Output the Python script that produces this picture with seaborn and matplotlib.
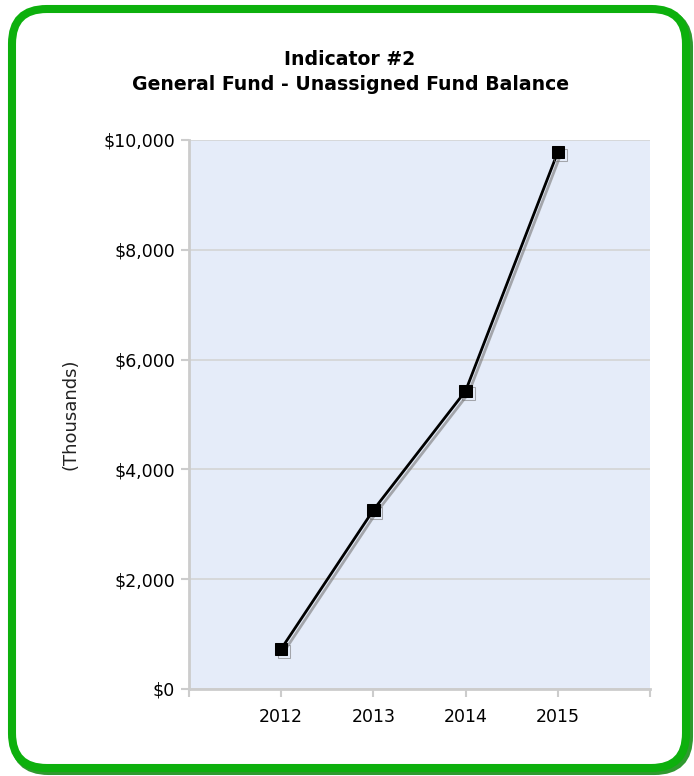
import matplotlib
matplotlib.use("Agg")
import matplotlib.pyplot as plt
import matplotlib.patheffects as pe
from matplotlib.patches import FancyBboxPatch
import seaborn as sns
import pandas as pd

years = [2012, 2013, 2014, 2015]
balance = [730, 3260, 5430, 9780]
y_ticks = [0, 2000, 4000, 6000, 8000, 10000]
y_tick_labels = ["$0", "$2,000", "$4,000", "$6,000", "$8,000", "$10,000"]
title_text = "Indicator #2\nGeneral Fund - Unassigned Fund Balance"
y_label = "(Thousands)"

df = pd.DataFrame({"year": years, "balance": balance})

sns.set_theme(style="white")
plt.rcParams['font.family'] = ['DejaVu Sans']

W, H = 694, 776
fig = plt.figure(figsize=(W / 100, H / 100), dpi=100)
fig.patch.set_facecolor("white")

# green rounded frame with shadow
shadow = FancyBboxPatch((14 / W, 5 / H), 675 / W, 759 / H,
                        boxstyle="round,pad=0,rounding_size=0.05",
                        transform=fig.transFigure, facecolor="none",
                        edgecolor="#2f9a2f", linewidth=5.8, zorder=0,
                        mutation_aspect=W / H)
fig.patches.append(shadow)
frame = FancyBboxPatch((12 / W, 8 / H), 674 / W, 759 / H,
                       boxstyle="round,pad=0,rounding_size=0.05",
                       transform=fig.transFigure, facecolor="white",
                       edgecolor="#0db00d", linewidth=5.8, zorder=1,
                       mutation_aspect=W / H)
fig.patches.append(frame)

left, right, top, bottom = 189, 650, 140, 689
ax = fig.add_axes([left / W, 1 - bottom / H, (right - left) / W, (bottom - top) / H])
ax.set_zorder(2)
ax.set_facecolor("#e5ecf9")

sns.lineplot(data=df, x="year", y="balance", ax=ax, color="black", linewidth=2,
             marker="s", markersize=9, markeredgecolor="black",
             path_effects=[pe.SimpleLineShadow(offset=(2, -2), shadow_color="#777777", alpha=0.6),
                           pe.Normal()])

ax.set_xlim(2011, 2016)
ax.set_ylim(0, 10000)
ax.set_xticks([2011] + years + [2016])
ax.set_xticklabels([""] + [str(y) for y in years] + [""], fontsize=12.5, color="black")
ax.set_yticks(y_ticks)
ax.set_yticklabels(y_tick_labels, fontsize=12.5, color="black")
ax.grid(axis="y", color="#d4d4d4", linewidth=1.2)
ax.set_axisbelow(True)
for s in ["top", "right"]:
    ax.spines[s].set_visible(False)
for s in ["left", "bottom"]:
    ax.spines[s].set_color("#cccccc")
    ax.spines[s].set_linewidth(2)
ax.tick_params(axis="both", which="both", length=6, width=1.5, color="#cccccc", pad=4,
               bottom=True, left=True)
ax.tick_params(axis="x", pad=8)
ax.set_xlabel("")
ax.set_ylabel(y_label, fontsize=13, color="#222222", labelpad=17)
fig.text(350 / W, 1 - 72 / H, title_text, ha="center", va="center",
         fontsize=13.6, fontweight="bold", linespacing=1.35, color="black")

fig.savefig("out.png", dpi=100)
